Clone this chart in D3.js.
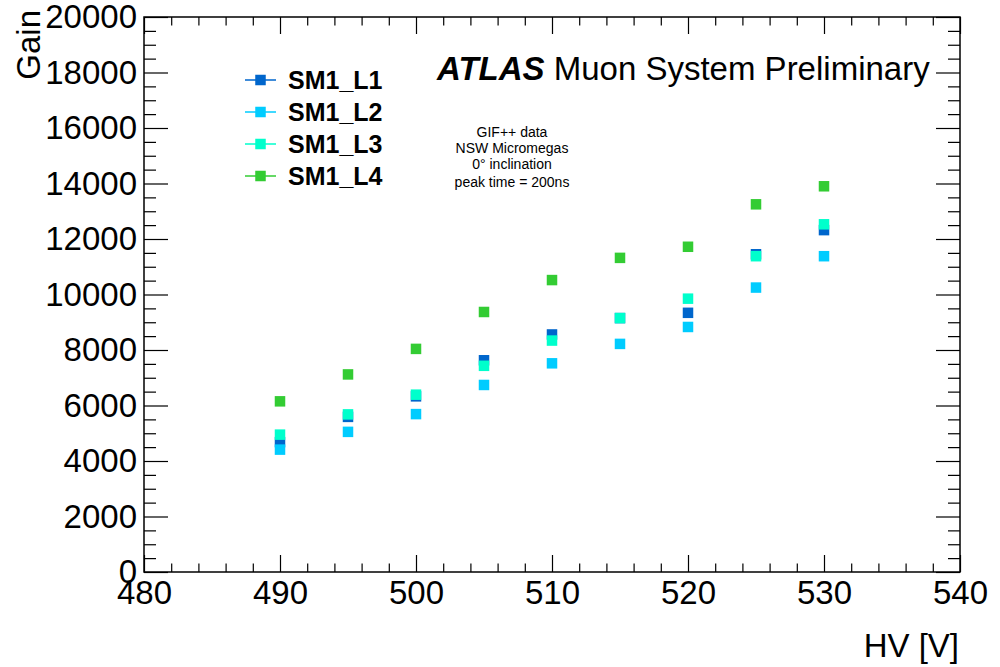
<!DOCTYPE html>
<html>
<head>
<meta charset="utf-8">
<script src="https://cdn.jsdelivr.net/npm/d3@7"></script>
<style>
  html, body { margin: 0; padding: 0; background: #fff; }
  svg { display: block; font-family: "Liberation Sans", Arial, Helvetica, sans-serif; }
</style>
</head>
<body>
<svg id="chart" width="1000" height="667"></svg>
<script>
// High voltage settings (V)
const hv = [490, 495, 500, 505, 510, 515, 520, 525, 530];

// Measured gain per layer
const gainL1 = [4680, 5590, 6330, 7630, 8560, 9150, 9340, 11450, 12320];
const gainL2 = [4410, 5050, 5690, 6740, 7520, 8220, 8830, 10250, 11380];
const gainL3 = [4950, 5680, 6390, 7430, 8340, 9150, 9850, 11380, 12530];
const gainL4 = [6150, 7120, 8040, 9370, 10520, 11320, 11720, 13250, 13900];

const seriesNames = ["SM1_L1", "SM1_L2", "SM1_L3", "SM1_L4"];
const seriesColors = ["#0066cc", "#00ccff", "#00ffcc", "#33cc33"];

const xTicks = [480, 490, 500, 510, 520, 530, 540];
const yTicks = [0, 2000, 4000, 6000, 8000, 10000, 12000, 14000, 16000, 18000, 20000];

const infoLines = ["GIF++ data", "NSW Micromegas", "0\u00b0 inclination", "peak time = 200ns"];

const svg = d3.select("#chart");
const frame = { left: 144, right: 960, top: 17, bottom: 572 };

const x = d3.scaleLinear().domain([480, 540]).range([frame.left, frame.right]);
const y = d3.scaleLinear().domain([0, 20000]).range([frame.bottom, frame.top]);

const xMinor = d3.range(480, 540.001, 2).filter(v => v % 10 !== 0);
const yMinor = d3.range(0, 20000.001, 500).filter(v => v % 2000 !== 0);

function styleAxis(g) {
  g.select(".domain").remove();
  g.selectAll(".tick line").attr("stroke", "#000").attr("stroke-width", 1.2);
  g.selectAll("text").attr("fill", "#000").attr("font-size", 33);
}

// bottom axis (ticks point into the frame)
svg.append("g")
  .attr("transform", `translate(0,${frame.bottom})`)
  .call(d3.axisBottom(x).tickValues(xTicks).tickSize(-17).tickPadding(9).tickFormat(d3.format("d")))
  .call(styleAxis)
  .call(g => g.selectAll("text").attr("dy", "0.71em"));
svg.append("g")
  .attr("transform", `translate(0,${frame.bottom})`)
  .call(d3.axisBottom(x).tickValues(xMinor).tickSize(-8.5).tickFormat(""))
  .call(styleAxis);

// top axis mirror
svg.append("g")
  .attr("transform", `translate(0,${frame.top})`)
  .call(d3.axisTop(x).tickValues(xTicks).tickSize(-17).tickFormat(""))
  .call(styleAxis);
svg.append("g")
  .attr("transform", `translate(0,${frame.top})`)
  .call(d3.axisTop(x).tickValues(xMinor).tickSize(-8.5).tickFormat(""))
  .call(styleAxis);

// left axis
svg.append("g")
  .attr("transform", `translate(${frame.left},0)`)
  .call(d3.axisLeft(y).tickValues(yTicks).tickSize(-24).tickPadding(7).tickFormat(d3.format("d")))
  .call(styleAxis);
svg.append("g")
  .attr("transform", `translate(${frame.left},0)`)
  .call(d3.axisLeft(y).tickValues(yMinor).tickSize(-12).tickFormat(""))
  .call(styleAxis);

// right axis mirror
svg.append("g")
  .attr("transform", `translate(${frame.right},0)`)
  .call(d3.axisRight(y).tickValues(yTicks).tickSize(-24).tickFormat(""))
  .call(styleAxis);
svg.append("g")
  .attr("transform", `translate(${frame.right},0)`)
  .call(d3.axisRight(y).tickValues(yMinor).tickSize(-12).tickFormat(""))
  .call(styleAxis);

// frame
svg.append("rect")
  .attr("x", frame.left).attr("y", frame.top)
  .attr("width", frame.right - frame.left).attr("height", frame.bottom - frame.top)
  .attr("fill", "none").attr("stroke", "#000").attr("stroke-width", 1.5);

// axis titles
svg.append("text")
  .attr("transform", `translate(40,${frame.top - 7}) rotate(-90)`)
  .attr("text-anchor", "end")
  .attr("font-size", 33)
  .text("Gain");
svg.append("text")
  .attr("x", frame.right - 1).attr("y", 657)
  .attr("text-anchor", "end")
  .attr("font-size", 33)
  .text("HV [V]");

// data markers
const allSeries = [gainL1, gainL2, gainL3, gainL4];
const mk = 10.5;
allSeries.forEach((vals, i) => {
  svg.append("g").selectAll("rect")
    .data(hv.map((h, j) => ({ h, v: vals[j] })))
    .join("rect")
    .attr("x", d => x(d.h) - mk / 2)
    .attr("y", d => y(d.v) - mk / 2)
    .attr("width", mk).attr("height", mk)
    .attr("fill", seriesColors[i]);
});

// legend
const legend = svg.append("g");
seriesNames.forEach((name, i) => {
  const cy = 80 + i * 32;
  const row = legend.append("g");
  row.append("line").attr("x1", 245).attr("x2", 276).attr("y1", cy).attr("y2", cy)
    .attr("stroke", seriesColors[i]).attr("stroke-width", 1.5);
  row.append("rect").attr("x", 260.5 - mk / 2).attr("y", cy - mk / 2)
    .attr("width", mk).attr("height", mk).attr("fill", seriesColors[i]);
  row.append("text").attr("x", 288).attr("y", cy + 9)
    .attr("font-size", 25).attr("font-weight", "bold").text(name);
});

// experiment label
const title = svg.append("text").attr("x", 437).attr("y", 80).attr("font-size", 33);
title.append("tspan").attr("font-weight", "bold").attr("font-style", "italic").text("ATLAS");
title.append("tspan").text(" Muon System Preliminary");

// run conditions
const infoY = [137, 153, 169, 187];
infoLines.forEach((t, i) => {
  svg.append("text").attr("x", 512).attr("y", infoY[i])
    .attr("text-anchor", "middle").attr("font-size", 14).text(t);
});
</script>
</body>
</html>
